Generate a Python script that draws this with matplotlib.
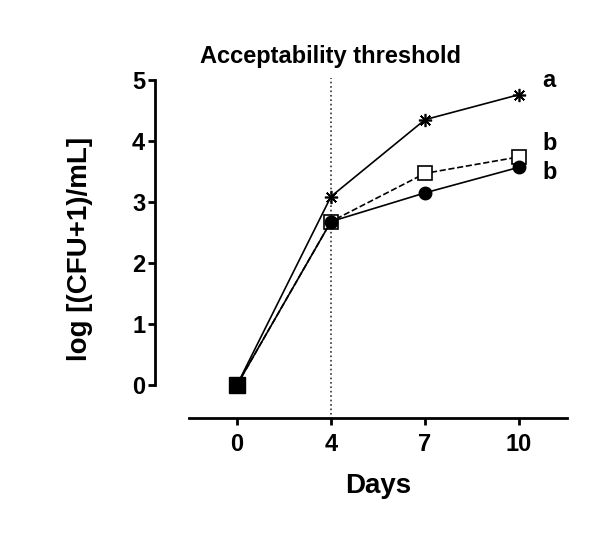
import numpy as np
import matplotlib
matplotlib.use("Agg")
import matplotlib.pyplot as plt

plt.rcParams['font.family'] = ['Liberation Sans', 'DejaVu Sans']
plt.rcParams['font.weight'] = 'bold'

days = ["0", "4", "7", "10"]
star_vals = [0.0, 3.09, 4.35, 4.76]
square_vals = [0.0, 2.68, 3.47, 3.74]
circle_vals = [0.0, 2.68, 3.15, 3.57]
end_letters = ["a", "b", "b"]

x = np.arange(len(days))

fig = plt.figure(figsize=(5.93, 5.37), dpi=100)
ax = fig.add_axes([189/593, 1 - 418/537, 378/593, 338/537])

ax.plot(x, square_vals, '--', color='black', lw=1.2, marker='s', ms=10.5, mfc='white', mec='black', mew=1.2, zorder=3)
ax.plot(x, circle_vals, '-', color='black', lw=1.2, marker='o', ms=9, mfc='black', mec='black', zorder=4)
ax.plot(x, star_vals, '-', color='black', lw=1.2, marker=(8, 2, 0), ms=9.5, mec='black', mew=1.2, zorder=5)
# filled square on day 0 covers all
ax.plot(x[0], 0, 's', ms=11, color='black', zorder=6)

ax.plot([1, 1], [-0.55, 5.03], ':', color='#333333', lw=1.2, clip_on=False, zorder=1)

ax.set_xlim(-0.51, 3.51)
ax.set_ylim(-0.54, 5.0)
ax.set_xticks(x)
ax.set_xticklabels(days)
ax.set_yticks(range(6))

for s in ['top', 'right']:
    ax.spines[s].set_visible(False)
ax.spines['left'].set_position(('outward', 24.5))
ax.spines['left'].set_bounds(0, 5)
ax.spines['left'].set_linewidth(2)
ax.spines['bottom'].set_linewidth(2)
ax.tick_params(width=2, length=5, labelsize=17)
ax.tick_params(axis='x', pad=6)
ax.tick_params(axis='y', pad=2)

ax.set_xlabel("Days", fontsize=20, fontweight='bold', labelpad=12)
ax.set_ylabel("log [(CFU+1)/mL]", fontsize=20, fontweight='bold', labelpad=28)

fig.text(330/593, 1 - 63/537, "Acceptability threshold", ha='center', va='baseline', fontsize=17, fontweight='bold')

letter_y = [4.99, 3.96, 3.49]
for lab, yy in zip(end_letters, letter_y):
    ax.text(3.25, yy, lab, fontsize=17, fontweight='bold', va='center', clip_on=False)

fig.savefig("out.png", dpi=100)
